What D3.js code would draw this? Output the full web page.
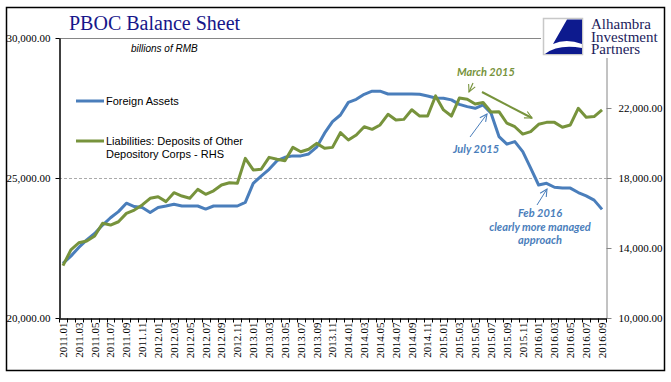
<!DOCTYPE html>
<html><head><meta charset="utf-8">
<script src="https://cdn.jsdelivr.net/npm/d3@7"></script>
<style>
html,body{margin:0;padding:0;background:#fff;}
svg{display:block;}
</style></head>
<body>
<svg id="chart" width="671" height="382"></svg>
<script>
// ---- data ----
const months = [];
for (let y = 2011; y <= 2016; y++) for (let m = 1; m <= 12; m++) {
  if (y === 2016 && m > 9) break;
  months.push(y + "." + String(m).padStart(2, "0"));
}
const foreignAssets = [
  21950,22210,22520,22790,23020,23320,23580,23800,24100,23980,23950,23770,
  23950,24000,24060,24000,24000,24000,23890,24000,24000,24000,24000,24130,
  24810,25070,25310,25620,25740,25790,25790,25860,26100,26600,27010,27250,
  27700,27810,27990,28100,28100,28000,28000,28000,28000,27990,27930,27860,
  27850,27790,27630,27550,27490,27610,27310,26480,26210,26300,25940,25350,
  24750,24810,24670,24640,24640,24480,24360,24210,23880
];
const deposits = [
  12990,13890,14300,14400,14690,15410,15310,15500,15980,16170,16460,16840,
  16930,16650,17160,16970,16840,17350,17070,17270,17600,17730,17700,19120,
  18460,18500,19180,19070,18990,19750,19500,19640,19980,19700,19750,20590,
  20170,20460,20930,20780,21030,21640,21310,21350,21900,21540,21540,22690,
  21890,21540,22570,22500,22230,22310,21770,21790,21130,20930,20510,20650,
  21070,21180,21180,20900,21030,21980,21470,21510,21890
];
const leftTicks = [20000, 25000, 30000];
const rightTicks = [10000, 14000, 18000, 22000];
const seriesNames = ["Foreign Assets", "Liabilities: Deposits of Other", "Depository Corps - RHS"];

// ---- layout ----
const svg = d3.select("#chart");
const L = 59, R = 606, T = 38, B = 318;
const blue = "#4A7EBB", green = "#77933C";
const serif = "'Liberation Serif','Times New Roman',serif";
const sans = "'Liberation Sans',Arial,sans-serif";
const anno = "Lato,'Open Sans',sans-serif";

const x = d3.scaleBand().domain(months).range([L, R]).padding(0);
const cx = d => x(d) + x.bandwidth() / 2;
const yL = d3.scaleLinear().domain([20000, 30000]).range([B, T]);
const yR = d3.scaleLinear().domain([10000, 26000]).range([B, T]);

// outer border
svg.append("rect").attr("x", 6.5).attr("y", 7.5).attr("width", 658).attr("height", 363)
  .attr("fill", "#fff").attr("stroke", "#000").attr("stroke-width", 1.5);

// dashed gridline at 25,000
svg.append("line").attr("x1", L).attr("x2", R).attr("y1", yL(25000) + 0.5).attr("y2", yL(25000) + 0.5)
  .attr("stroke", "#aaa").attr("stroke-dasharray", "3,2").attr("stroke-width", 1);

// plot top border
svg.append("line").attr("x1", L).attr("x2", R).attr("y1", T + 0.5).attr("y2", T + 0.5)
  .attr("stroke", "#868686").attr("stroke-width", 1);

// lines
const lineL = d3.line().x((d, i) => cx(months[i])).y(d => yL(d));
const lineR = d3.line().x((d, i) => cx(months[i])).y(d => yR(d));
svg.append("path").datum(foreignAssets).attr("d", lineL).attr("fill", "none")
  .attr("stroke", blue).attr("stroke-width", 3).attr("stroke-linejoin", "round");
svg.append("path").datum(deposits).attr("d", lineR).attr("fill", "none")
  .attr("stroke", green).attr("stroke-width", 3).attr("stroke-linejoin", "round");

// left axis
const gL = svg.append("g").attr("transform", `translate(${L + 0.5},0)`)
  .call(d3.axisLeft(yL).tickValues(leftTicks).tickFormat(d3.format(",.2f")).tickSize(4).tickPadding(5).tickSizeOuter(0));
gL.select(".domain").attr("stroke", "#000").attr("stroke-width", 1.5);
gL.selectAll(".tick line").attr("stroke", "#000");
gL.selectAll("text").attr("font-family", serif).attr("font-size", 11).attr("fill", "#000");

// right axis
const gR = svg.append("g").attr("transform", `translate(${R + 0.5},0)`)
  .call(d3.axisRight(yR).tickValues(rightTicks).tickFormat(d3.format(",.2f")).tickSize(5).tickPadding(7).tickSizeOuter(0));
gR.select(".domain").attr("stroke", "#868686");
gR.selectAll(".tick line").attr("stroke", "#868686");
gR.selectAll("text").attr("font-family", serif).attr("font-size", 11).attr("fill", "#000");

// bottom axis
const gB = svg.append("g").attr("transform", `translate(0,${B + 0.5})`)
  .call(d3.axisBottom(x).tickValues(months.filter((d, i) => i % 2 === 0)).tickSize(0).tickPadding(0).tickSizeOuter(0));
gB.select(".domain").attr("stroke", "#000").attr("stroke-width", 1.5);
gB.selectAll(".tick text")
  .attr("font-family", serif).attr("font-size", 11).attr("fill", "#000")
  .attr("text-anchor", "end").attr("transform", "translate(0,4) rotate(-90)")
  .attr("x", 0).attr("y", 0).attr("dy", "0.35em");
// boundary tick marks
const edges = months.map(d => x(d)).concat([R]);
gB.selectAll("line.edge").data(edges).enter().append("line").attr("class", "edge")
  .attr("x1", d => Math.round(d) + 0.5).attr("x2", d => Math.round(d) + 0.5)
  .attr("y1", 0).attr("y2", 4).attr("stroke", "#000");

// title
svg.append("text").attr("x", 69).attr("y", 30).text("PBOC Balance Sheet")
  .attr("font-family", serif).attr("font-size", 20).attr("fill", "#16168A");
svg.append("text").attr("x", 131).attr("y", 52).text("billions of RMB")
  .attr("font-family", sans).attr("font-style", "italic").attr("font-size", 10).attr("fill", "#000");

// legend
const leg = svg.append("g").attr("font-family", sans).attr("font-size", 11).attr("fill", "#000");
leg.append("line").attr("x1", 76).attr("x2", 104).attr("y1", 101).attr("y2", 101).attr("stroke", blue).attr("stroke-width", 3);
leg.append("text").attr("x", 106).attr("y", 105).text(seriesNames[0]);
leg.append("line").attr("x1", 76).attr("x2", 104).attr("y1", 141).attr("y2", 141).attr("stroke", green).attr("stroke-width", 3);
leg.append("text").attr("x", 106).attr("y", 145).text(seriesNames[1]);
leg.append("text").attr("x", 106).attr("y", 158).text(seriesNames[2]);

// arrow markers
const defs = svg.append("defs");
[["arrG", green], ["arrB", blue]].forEach(([id, c]) => {
  defs.append("marker").attr("id", id).attr("viewBox", "0 0 10 10").attr("refX", 9).attr("refY", 5)
    .attr("markerWidth", 9).attr("markerHeight", 9).attr("markerUnits", "userSpaceOnUse").attr("orient", "auto")
    .append("path").attr("d", "M1,1 L9,5 L1,9").attr("fill", "none").attr("stroke", c).attr("stroke-width", 1.2);
});

// annotations
const an = svg.append("g").attr("font-family", anno).attr("font-style", "italic").attr("font-weight", "bold").attr("font-size", 11);
an.append("text").attr("x", 457).attr("y", 76).attr("fill", green).text("March 2015");
an.append("line").attr("x1", 473).attr("y1", 83).attr("x2", 469).attr("y2", 92)
  .attr("stroke", green).attr("stroke-width", 1.2).attr("marker-end", "url(#arrG)");
an.append("line").attr("x1", 482).attr("y1", 92).attr("x2", 532).attr("y2", 118)
  .attr("stroke", green).attr("stroke-width", 2).attr("marker-end", "url(#arrG)");
an.append("text").attr("x", 453).attr("y", 153).attr("fill", blue).text("July 2015");
an.append("line").attr("x1", 470).attr("y1", 137).attr("x2", 487).attr("y2", 114)
  .attr("stroke", blue).attr("stroke-width", 1).attr("marker-end", "url(#arrB)");
const febT = an.append("text").attr("fill", blue).attr("text-anchor", "middle");
febT.append("tspan").attr("x", 540).attr("y", 217).text("Feb 2016");
febT.append("tspan").attr("x", 540).attr("y", 231).text("clearly more managed");
febT.append("tspan").attr("x", 540).attr("y", 244).text("approach");
an.append("line").attr("x1", 537).attr("y1", 205).attr("x2", 547).attr("y2", 189)
  .attr("stroke", blue).attr("stroke-width", 1).attr("marker-end", "url(#arrB)");

// logo
const lg = svg.append("g");
lg.append("rect").attr("x", 541).attr("y", 10).attr("width", 122).attr("height", 48).attr("fill", "#fff");
lg.append("rect").attr("x", 543.5).attr("y", 18.5).attr("width", 39).attr("height", 36)
  .attr("fill", "#fff").attr("stroke", "#c8c8c8").attr("stroke-width", 1.5);
lg.append("path").attr("d", "M567,19.5 L582,19.5 L582,44 Q566,38 553,44 Z").attr("fill", "#0D1A8E");
lg.append("path").attr("d", "M545,54 Q558,44 582,48 L582,54 Z").attr("fill", "#0D1A8E");
const lt = lg.append("text").attr("font-family", serif).attr("font-size", 15).attr("fill", "#1C1C5C");
lt.append("tspan").attr("x", 591).attr("y", 29).text("Alhambra");
lt.append("tspan").attr("x", 591).attr("y", 42).text("Investment");
lt.append("tspan").attr("x", 591).attr("y", 54).text("Partners");
</script>
</body></html>
